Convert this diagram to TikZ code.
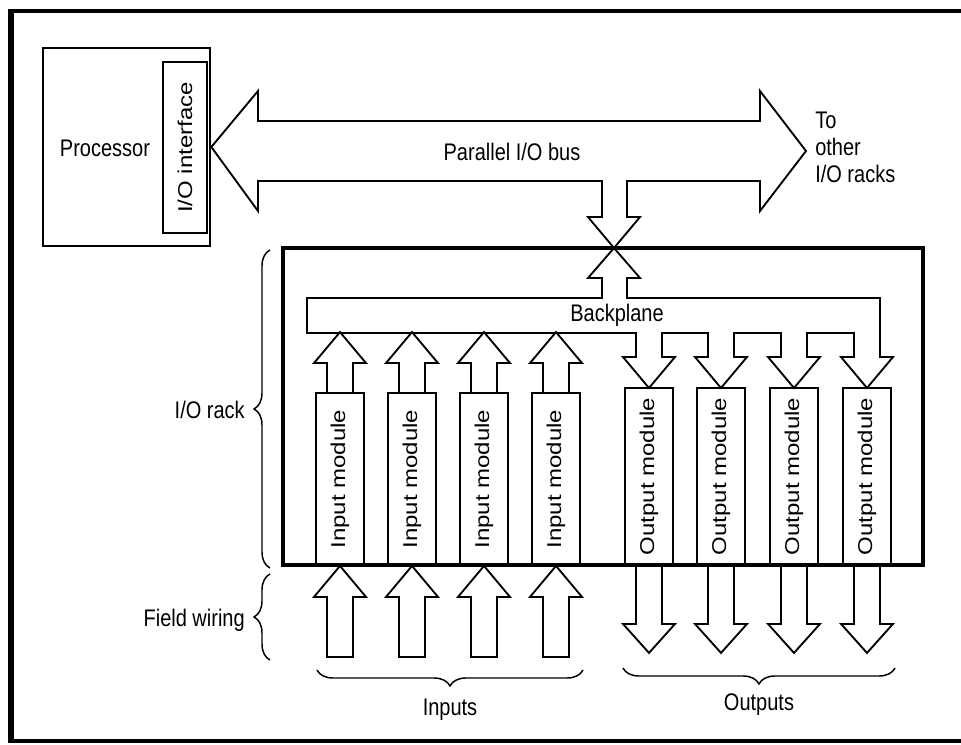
\documentclass[tikz,border=0pt]{standalone}
\usepackage{fontspec}
\setmainfont{Liberation Sans}
\usepackage{graphicx}
\usetikzlibrary{decorations.pathreplacing}
\newcommand{\tallt}[1]{\scalebox{1}[1.2]{#1}}
\newcommand{\vlab}[1]{\rotatebox{90}{\scalebox{1.2}[1]{#1}}}

\begin{document}
\begin{tikzpicture}[x=0.75pt, y=-0.75pt,
  every node/.style={font=\fontsize{15}{17}\selectfont, inner sep=0pt},
  box/.style={draw, line width=1.6pt},
  module/.style={draw, line width=1.4pt, minimum width=36pt, inner sep=0pt},
  blk/.style={draw, line width=1.4pt},
  brc/.style={decorate, decoration={brace, amplitude=12pt}, line width=1.1pt}
]
  \useasboundingbox (0,0) rectangle (961,745);

  % frame
  \draw[line width=5pt] (11,9) -- (11,743);
  \draw[line width=3.5pt] (9,11) -- (961,11);
  \draw[line width=3pt] (9,741) -- (961,741);

  % processor
  \node[box, line width=2pt, minimum width=125.25pt, minimum height=148.5pt] (proc) at (126.5,147) {};
  \node[box, minimum width=33pt, minimum height=128.25pt] (iface) at (185,147.5) {\vlab{I/O interface}};
  \node (proclbl) at (105,148) {\tallt{Processor}};

  % parallel bus
  \draw[blk] (proc.east) -- (258,91) -- (258,121) -- (760,121) -- (760,91) -- (806,151)
    -- (760,211) -- (760,181) -- (627,181) -- (627,217) -- (640,217) -- (614,248)
    -- (588,217) -- (602,217) -- (602,181) -- (258,181) -- (258,211) -- cycle;
  \node (buslbl) at (512,152) {\tallt{Parallel I/O bus}};
  \node[anchor=west] (other) at (815,150)
    {\tallt{\begin{tabular}{@{}l@{}}To\\other\\I/O racks\end{tabular}}};

  % rack
  \node[draw, line width=3pt, minimum width=480pt, minimum height=237.75pt] (rack) at (603,406.5) {};

  % backplane
  \draw[blk] (307,298) -- (602,298) -- (602,278) -- (588,278) -- (614,248) -- (640,278)
    -- (627,278) -- (627,298) -- (880,298) -- (880,357) -- (893,357) -- (867,388)
    -- (841,357) -- (854,357) -- (854,333) -- (807,333) -- (807,357) -- (820,357)
    -- (794,388) -- (768,357) -- (781,357) -- (781,333) -- (734,333) -- (734,357)
    -- (747,357) -- (721,388) -- (695,357) -- (708,357) -- (708,333) -- (662,333)
    -- (662,357) -- (675,357) -- (649,388) -- (623,357) -- (636,357) -- (636,333)
    -- (307,333) -- cycle;
  \node (bplbl) at (617,315) {\tallt{Backplane}};

  % input modules
  \foreach \c [count=\i] in {340,412,484,556} {
    \node[module, minimum height=129pt] (in\i) at (\c,479) {\vlab{Input module}};
    \draw[blk] (in\i.north) ++(-13,0) -- ++(0,-29) -- ++(-13,0) -- ++(26,-31)
      -- ++(26,31) -- ++(-13,0) -- ++(0,29);
    \draw[blk] (in\i.south) -- ++(26,31) -- ++(-13,0) -- ++(0,60) -- ++(-26,0)
      -- ++(0,-60) -- ++(-13,0) -- cycle;
  }

  % output modules
  \foreach \c [count=\i] in {649,721,794,867} {
    \node[module, minimum height=132.75pt] (out\i) at (\c,476.5) {\vlab{Output module}};
    \draw[blk] (out\i.south) ++(-13,0) -- ++(0,58) -- ++(-13,0) -- ++(26,29)
      -- ++(26,-29) -- ++(-13,0) -- ++(0,-58);
  }

  % braces
  \draw[brc] (270,568) -- (270,250);
  \node[anchor=east] (racklbl) at (245,410) {\tallt{I/O rack}};
  \draw[brc] (270,660) -- (270,574);
  \node[anchor=east] (fieldlbl) at (245,620) {\tallt{Field wiring}};
  \draw[brc] (583,670) -- (317,670);
  \node (inlbl) at (450,710) {\tallt{Inputs}};
  \draw[brc] (895,668) -- (623,668);
  \node (outlbl) at (759,705) {\tallt{Outputs}};
\end{tikzpicture}
\end{document}
